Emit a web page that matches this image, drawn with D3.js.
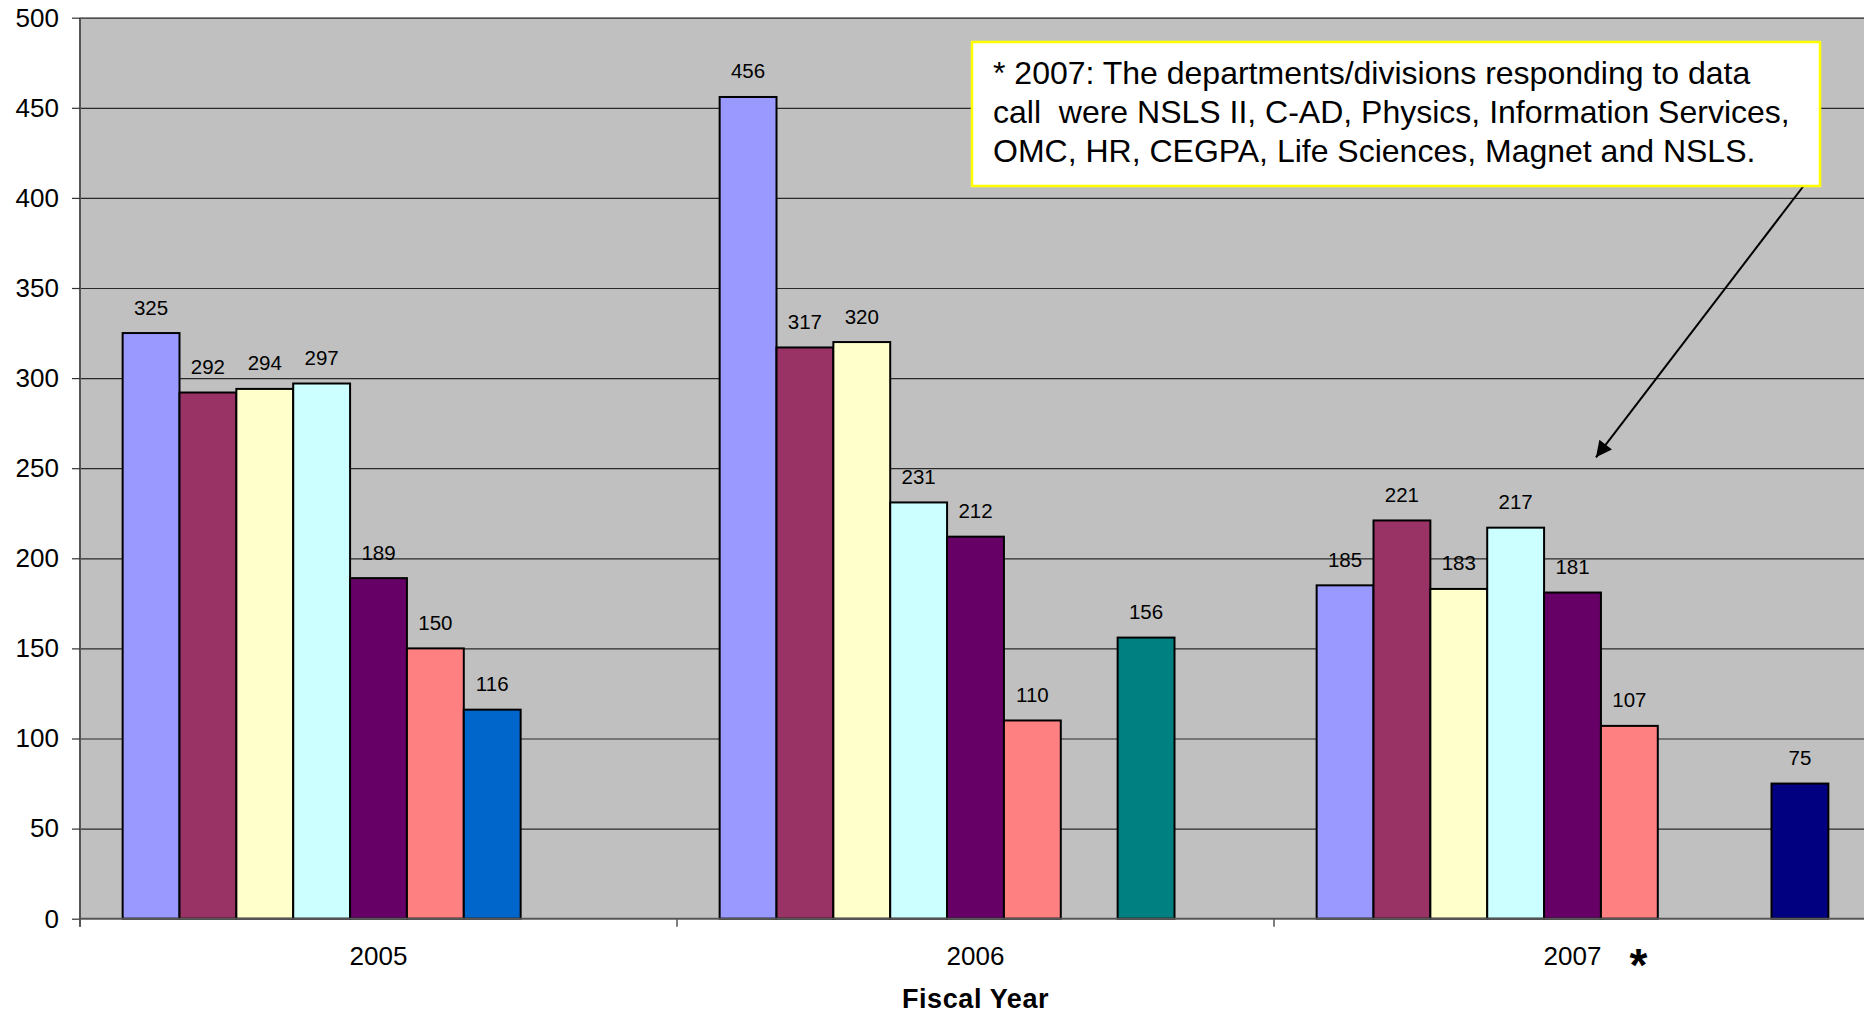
<!DOCTYPE html>
<html>
<head>
<meta charset="utf-8">
<script src="https://cdn.jsdelivr.net/npm/d3@7"></script>
<style>
  html, body { margin: 0; padding: 0; background: #ffffff; }
  svg { display: block; }
  text { font-family: "Liberation Sans", Arial, sans-serif; fill: #000; }
</style>
</head>
<body>
<svg id="chart" width="1864" height="1016"></svg>
<script>
// Fiscal years on the category axis
const years = ["2005", "2006", "2007"];

// One series per department group; null where a group reported nothing that year
const seriesKeys = ["s1", "s2", "s3", "s4", "s5", "s6", "s7", "s8", "s9"];
const s1 = [325, 456, 185];
const s2 = [292, 317, 221];
const s3 = [294, 320, 183];
const s4 = [297, 231, 217];
const s5 = [189, 212, 181];
const s6 = [150, 110, 107];
const s7 = [116, null, null];
const s8 = [null, 156, null];
const s9 = [null, null, 75];
const seriesValues = [s1, s2, s3, s4, s5, s6, s7, s8, s9];
const seriesColors = ["#9999FF", "#993366", "#FFFFCC", "#CCFFFF", "#660066",
                      "#FF8080", "#0066CC", "#008080", "#000080"];

// Value axis ticks
const yTicks = [0, 50, 100, 150, 200, 250, 300, 350, 400, 450, 500];

const noteLines = [
  "* 2007: The departments/divisions responding to data",
  "call  were NSLS II, C-AD, Physics, Information Services,",
  "OMC, HR, CEGPA, Life Sciences, Magnet and NSLS."
];

// Layout
const plot = { left: 80, right: 1871, top: 17.7, bottom: 918.7 };

const svg = d3.select("#chart");

const x0 = d3.scaleBand().domain(years).range([plot.left, plot.right])
  .paddingInner(0).paddingOuter(0);
const x1 = d3.scaleBand().domain(seriesKeys).range([0, x0.bandwidth()])
  .paddingInner(0).paddingOuter(0.75);
const y = d3.scaleLinear().domain([0, 500]).range([plot.bottom, plot.top]);

const color = d3.scaleOrdinal().domain(seriesKeys).range(seriesColors);

// Plot background
svg.append("rect")
  .attr("x", plot.left).attr("y", plot.top)
  .attr("width", plot.right - plot.left).attr("height", plot.bottom - plot.top)
  .attr("fill", "#C0C0C0");

// Horizontal gridlines
const grid = svg.append("g")
  .attr("transform", `translate(${plot.left},0)`)
  .call(d3.axisLeft(y).tickValues(yTicks.slice(1)).tickSize(-(plot.right - plot.left)).tickFormat(""));
grid.select(".domain").remove();
grid.selectAll("line").attr("stroke", "#2a2a2a").attr("stroke-width", 1.2);

// Bars
const flat = [];
years.forEach((yr, i) => {
  seriesKeys.forEach((k, j) => {
    const v = seriesValues[j][i];
    if (v !== null) flat.push({ year: yr, key: k, value: v });
  });
});

svg.append("g").selectAll("rect")
  .data(flat)
  .join("rect")
  .attr("x", d => x0(d.year) + x1(d.key))
  .attr("y", d => y(d.value))
  .attr("width", x1.bandwidth())
  .attr("height", d => y(0) - y(d.value))
  .attr("fill", d => color(d.key))
  .attr("stroke", "#000")
  .attr("stroke-width", 2);

// Value labels above each bar
svg.append("g").selectAll("text")
  .data(flat)
  .join("text")
  .attr("x", d => x0(d.year) + x1(d.key) + x1.bandwidth() / 2)
  .attr("y", d => y(d.value) - 18.5)
  .attr("text-anchor", "middle")
  .attr("font-size", 20.5)
  .text(d => d.value);

// Value axis
const yAxis = svg.append("g")
  .attr("transform", `translate(${plot.left},0)`)
  .call(d3.axisLeft(y).tickValues(yTicks).tickSize(8).tickPadding(13).tickSizeOuter(0));
yAxis.select(".domain").attr("stroke", "#555").attr("stroke-width", 2)
  .attr("d", `M0,${plot.top}V${plot.bottom + 8}`);
yAxis.selectAll(".tick line").attr("stroke", "#333").attr("stroke-width", 1.2);
yAxis.selectAll("text").attr("font-size", 26).attr("fill", "#000")
  .style("font-family", "'Liberation Sans', Arial, sans-serif");

// Category axis line
svg.append("line")
  .attr("x1", plot.left).attr("x2", plot.right)
  .attr("y1", plot.bottom).attr("y2", plot.bottom)
  .attr("stroke", "#555").attr("stroke-width", 2);

// Tick marks between categories
const boundaries = years.map(yr => x0(yr)).concat([x0.range()[1]]);
svg.append("g").selectAll("line")
  .data(boundaries)
  .join("line")
  .attr("x1", d => d).attr("x2", d => d)
  .attr("y1", plot.bottom).attr("y2", plot.bottom + 8)
  .attr("stroke", "#555").attr("stroke-width", 1.5);

// Category labels
const xAxis = svg.append("g")
  .attr("transform", `translate(0,${plot.bottom})`)
  .call(d3.axisBottom(x0).tickSize(0).tickPadding(28));
xAxis.select(".domain").remove();
xAxis.selectAll("text").attr("font-size", 26).attr("fill", "#000")
  .style("font-family", "'Liberation Sans', Arial, sans-serif");

// Asterisk marking the 2007 footnote
svg.append("text")
  .attr("x", 1638.5).attr("y", 981)
  .attr("text-anchor", "middle")
  .attr("font-size", 46)
  .attr("font-weight", "bold")
  .text("*");

// Axis title
svg.append("text")
  .attr("x", (plot.left + plot.right) / 2).attr("y", 1008)
  .attr("text-anchor", "middle")
  .attr("font-size", 27)
  .attr("font-weight", "bold")
  .attr("letter-spacing", 0.6)
  .text("Fiscal Year");

// Footnote box with arrow pointing at the 2007 group
svg.append("defs").append("marker")
  .attr("id", "arrowhead")
  .attr("viewBox", "0 0 10 10")
  .attr("refX", 10).attr("refY", 5)
  .attr("markerWidth", 18).attr("markerHeight", 16)
  .attr("markerUnits", "userSpaceOnUse")
  .attr("orient", "auto")
  .append("path").attr("d", "M0,0L10,5L0,10Z").attr("fill", "#000");

svg.append("line")
  .attr("x1", 1804.3).attr("y1", 185)
  .attr("x2", 1596).attr("y2", 457.3)
  .attr("stroke", "#000").attr("stroke-width", 2)
  .attr("marker-end", "url(#arrowhead)");

svg.append("rect")
  .attr("x", 972).attr("y", 42)
  .attr("width", 848).attr("height", 144)
  .attr("fill", "#ffffff")
  .attr("stroke", "#FFFF00").attr("stroke-width", 2.5);

svg.append("g").selectAll("text")
  .data(noteLines)
  .join("text")
  .attr("x", 993)
  .attr("y", (d, i) => 84 + i * 38.8)
  .attr("font-size", 32)
  .style("white-space", "pre")
  .text(d => d);
</script>
</body>
</html>
